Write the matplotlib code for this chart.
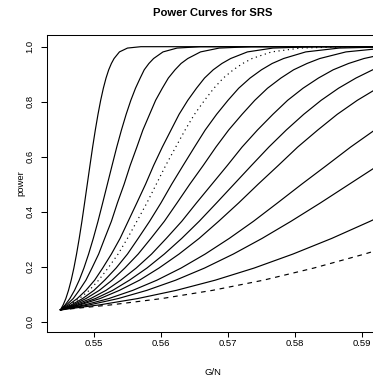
import matplotlib
matplotlib.use("Agg")
import matplotlib.pyplot as plt

plt.rcParams['font.family'] = ['Liberation Sans', 'DejaVu Sans']

# power levels shared by every curve
power = [0.043, 0.061, 0.084, 0.114, 0.151, 0.195, 0.246, 0.303, 0.365, 0.432,
         0.500, 0.568, 0.635, 0.697, 0.754, 0.805, 0.849, 0.886, 0.916, 0.939,
         0.957, 0.981, 0.995, 1.000, 1.000]

# G/N positions where each curve reaches those power levels
c1 = [0.5450, 0.5454, 0.5458, 0.5462, 0.5466, 0.5470, 0.5474, 0.5478, 0.5482, 0.5486,
      0.5490, 0.5494, 0.5498, 0.5502, 0.5506, 0.5510, 0.5514, 0.5518, 0.5522, 0.5526,
      0.5530, 0.5538, 0.5550, 0.5570, 0.5930]
c2 = [0.5450, 0.5457, 0.5464, 0.5471, 0.5478, 0.5485, 0.5492, 0.5499, 0.5506, 0.5513,
      0.5520, 0.5527, 0.5534, 0.5541, 0.5548, 0.5555, 0.5562, 0.5569, 0.5575, 0.5582,
      0.5589, 0.5603, 0.5624, 0.5659, 0.5930]
c3 = [0.5450, 0.5459, 0.5469, 0.5478, 0.5488, 0.5497, 0.5507, 0.5516, 0.5526, 0.5535,
      0.5545, 0.5554, 0.5564, 0.5573, 0.5583, 0.5592, 0.5602, 0.5611, 0.5621, 0.5630,
      0.5640, 0.5659, 0.5687, 0.5735, 0.5930]
c4 = [0.5450, 0.5462, 0.5475, 0.5488, 0.5501, 0.5513, 0.5526, 0.5539, 0.5551, 0.5564,
      0.5577, 0.5589, 0.5602, 0.5615, 0.5627, 0.5640, 0.5653, 0.5665, 0.5678, 0.5691,
      0.5704, 0.5729, 0.5767, 0.5830, 0.5930]
dotted = [0.5450, 0.5464, 0.5478, 0.5493, 0.5507, 0.5521, 0.5536, 0.5550, 0.5564, 0.5579,
          0.5593, 0.5607, 0.5622, 0.5636, 0.5650, 0.5665, 0.5679, 0.5693, 0.5708, 0.5722,
          0.5736, 0.5765, 0.5808, 0.5880, 0.5930]
c5 = [0.5450, 0.5466, 0.5483, 0.5500, 0.5516, 0.5533, 0.5550, 0.5566, 0.5583, 0.5600,
      0.5616, 0.5633, 0.5650, 0.5666, 0.5683, 0.5700, 0.5716, 0.5733, 0.5750, 0.5766,
      0.5783, 0.5816, 0.5866, 0.5950]
c6 = [0.5450, 0.5469, 0.5488, 0.5508, 0.5527, 0.5546, 0.5566, 0.5585, 0.5605, 0.5624,
      0.5643, 0.5663, 0.5682, 0.5701, 0.5721, 0.5740, 0.5759, 0.5779, 0.5798, 0.5818,
      0.5837, 0.5876, 0.5934]
c7 = [0.5450, 0.5472, 0.5495, 0.5518, 0.5540, 0.5563, 0.5586, 0.5608, 0.5631, 0.5653,
      0.5676, 0.5699, 0.5721, 0.5744, 0.5767, 0.5789, 0.5812, 0.5835, 0.5857, 0.5880,
      0.5903, 0.5948]
c8 = [0.5450, 0.5476, 0.5502, 0.5528, 0.5553, 0.5579, 0.5605, 0.5631, 0.5657, 0.5683,
      0.5709, 0.5735, 0.5761, 0.5787, 0.5813, 0.5839, 0.5865, 0.5891, 0.5916, 0.5942]
c9 = [0.5450, 0.5479, 0.5509, 0.5538, 0.5568, 0.5597, 0.5627, 0.5657, 0.5686, 0.5716,
      0.5745, 0.5775, 0.5804, 0.5834, 0.5863, 0.5893, 0.5923]
c10 = [0.5450, 0.5486, 0.5522, 0.5558, 0.5594, 0.5630, 0.5666, 0.5702, 0.5738, 0.5774,
       0.5810, 0.5847, 0.5883, 0.5919]
c11 = [0.5450, 0.5493, 0.5536, 0.5579, 0.5622, 0.5665, 0.5708, 0.5751, 0.5794, 0.5838,
       0.5881, 0.5924]
c12 = [0.5450, 0.5508, 0.5565, 0.5623, 0.5681, 0.5739, 0.5797, 0.5855, 0.5912, 0.5970]
dashed = [0.5450, 0.5525, 0.5601, 0.5677, 0.5753, 0.5828, 0.5904, 0.5980]

solid_curves = [c1, c2, c3, c4, c5, c6, c7, c8, c9, c10, c11, c12]

fig = plt.figure(figsize=(3.73, 3.80), dpi=100)
ax = fig.add_axes([47 / 373, 48.3 / 380, 332 / 373, 296.7 / 380])

for xs in solid_curves:
    ax.plot(xs, power[:len(xs)], color='black', lw=0.85)
ax.plot(dotted, power[:len(dotted)], color='black', lw=0.85, linestyle=(0, (1, 3)))
ax.plot(dashed, power[:len(dashed)], color='black', lw=0.85, linestyle=(0, (4, 4)))

ax.set_xlim(0.54299, 0.592537)
ax.set_ylim(-0.0364, 1.0425)
ax.set_xticks([0.55, 0.56, 0.57, 0.58, 0.59])
ax.set_xticklabels(['0.55', '0.56', '0.57', '0.58', '0.59'])
ax.set_yticks([0.0, 0.2, 0.4, 0.6, 0.8, 1.0])
ax.set_yticklabels(['0.0', '0.2', '0.4', '0.6', '0.8', '1.0'], rotation=90, va='center')
ax.tick_params(axis='x', direction='out', length=3.8, width=0.75, pad=1.5, labelsize=6.8)
ax.tick_params(axis='y', direction='out', length=4.3, width=0.75, pad=4.5, labelsize=6.8)
for s in ax.spines.values():
    s.set_linewidth(0.75)

ax.set_xlabel('G/N', fontsize=6.8, labelpad=14)
ax.set_ylabel('power', fontsize=6.8, labelpad=0.5)
ax.set_title('Power Curves for SRS', fontsize=8.1, fontweight='bold', pad=13.5)

fig.savefig('out.png', dpi=100)
